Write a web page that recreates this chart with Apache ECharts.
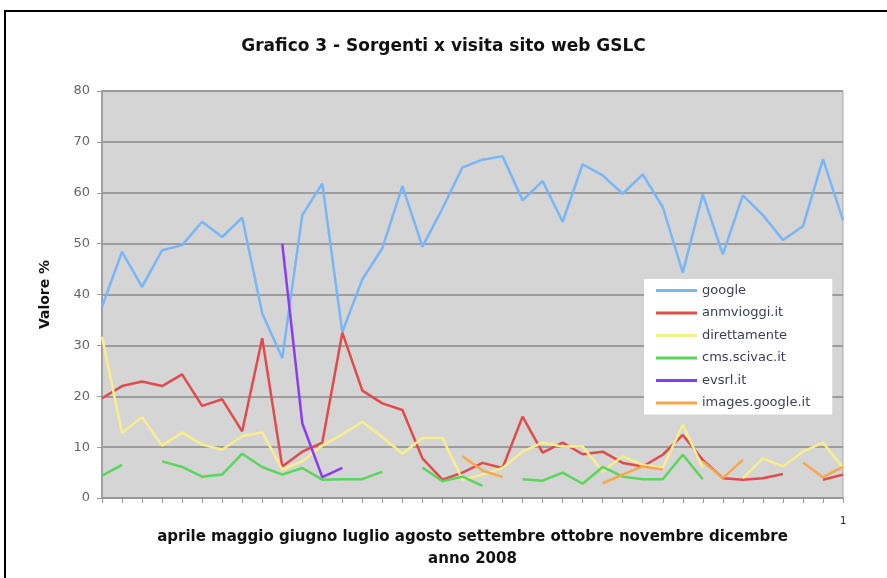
<!DOCTYPE html>
<html>
<head>
<meta charset="utf-8">
<script src="https://cdn.jsdelivr.net/npm/echarts@6/dist/echarts.min.js"></script>
<style>
  html, body { margin: 0; padding: 0; background: #fff; }
  #chart { width: 887px; height: 578px; }
</style>
</head>
<body>
<div id="chart"></div>
<script>
// settimane da aprile a dicembre 2008
const weeks = []
for (let i = 1; i <= 38; i++) weeks.push(String(i))

const google = [37.6, 48.4, 41.5, 48.7, 49.7, 54.3, 51.3, 55.1, 36.3, 27.5, 55.6, 61.8, 32.6,
  43.0, 49.1, 61.3, 49.4, 56.9, 65.0, 66.5, 67.2, 58.5, 62.3, 54.3, 65.6,
  63.4, 59.8, 63.6, 57.2, 44.3, 59.7, 47.9, 59.5, 55.6, 50.7, 53.4, 66.6, 54.6]
const anmvioggi = [19.6, 22.0, 22.9, 22.0, 24.3, 18.1, 19.4, 13.1, 31.4, 6.2, 9.1, 10.9, 32.5,
  21.1, 18.6, 17.3, 7.8, 3.6, 5.0, 6.9, 5.9, 16.0, 8.9, 10.9, 8.6,
  9.1, 6.9, 6.2, 8.5, 12.4, 7.5, 3.9, 3.6, 3.9, 4.7, null, 3.6, 4.6]
const direttamente = [31.7, 12.8, 15.9, 10.3, 12.9, 10.5, 9.5, 12.2, 12.9, 5.6, 7.2, 10.3, 12.5,
  15.0, 12.0, 8.7, 11.8, 11.8, 3.6, 4.6, 5.9, 9.1, 10.9, 10.1, 10.1,
  5.2, 8.2, 6.5, 5.9, 14.4, 5.9, null, 3.9, 7.8, 6.2, 9.1, 10.9, 5.9]
const cmsScivac = [4.4, 6.5, null, 7.2, 6.1, 4.2, 4.6, 8.7, 6.1, 4.6, 5.9, 3.6, 3.7,
  3.7, 5.2, null, 6.0, 3.3, 4.2, 2.4, null, 3.7, 3.4, 5.0, 2.8,
  6.1, 4.2, 3.7, 3.7, 8.5, 3.7, null, null, null, null, null, null, null]
const evsrl = [null, null, null, null, null, null, null, null, null, 50.0, 14.7, 4.1, 5.9,
  null, null, null, null, null, null, null, null, null, null, null, null,
  null, null, null, null, null, null, null, null, null, null, null, null, null]
const imagesGoogle = [null, null, null, null, null, null, null, null, null, null, null, null, null,
  null, null, null, null, null, 8.2, 5.4, 4.1, null, null, null, null,
  2.9, 4.6, 6.2, 5.6, null, 7.2, 3.9, 7.5, null, null, 7.0, 4.1, 6.1]

const seriesNames = ['google', 'anmvioggi.it', 'direttamente', 'cms.scivac.it', 'evsrl.it', 'images.google.it']
const seriesData = [google, anmvioggi, direttamente, cmsScivac, evsrl, imagesGoogle]
const colors = ['#78b6f8', '#e04b4b', '#f8ee8e', '#5ad65a', '#8a3cf5', '#f6a74a']

const yTicks = [0, 10, 20, 30, 40, 50, 60, 70, 80]

const chart = echarts.init(document.getElementById('chart'))

const option = {
  animation: false,
  textStyle: { fontFamily: 'DejaVu Sans' },
  title: {
    text: 'Grafico 3 - Sorgenti x visita sito web GSLC',
    left: 'center',
    top: 33,
    textStyle: { fontSize: 17, fontWeight: 'bold', color: '#111', fontFamily: 'DejaVu Sans' }
  },
  grid: {
    left: 102,
    right: 44,
    top: 91,
    bottom: 80,
    show: true,
    backgroundColor: '#d5d5d5',
    borderColor: '#a8a8a8',
    borderWidth: 1
  },
  legend: {
    orient: 'vertical',
    left: 644,
    top: 279,
    padding: [5, 22, 5, 12],
    backgroundColor: '#fff',
    icon: 'path://M0,0H41V3H0Z',
    itemWidth: 41,
    itemHeight: 14,
    itemGap: 9.5,
    textStyle: { fontSize: 13, color: '#3a3f55' },
    data: seriesNames
  },
  xAxis: {
    type: 'category',
    data: weeks,
    boundaryGap: false,
    axisLine: { lineStyle: { color: '#999', width: 1 } },
    axisTick: { show: true, interval: 0, length: 5, lineStyle: { color: '#999' } },
    axisLabel: { show: false },
    splitLine: { show: false },
    name: 'aprile maggio giugno luglio agosto settembre ottobre novembre dicembre\nanno 2008',
    nameLocation: 'middle',
    nameGap: 28,
    nameTextStyle: { fontSize: 15, fontWeight: 'bold', color: '#111', lineHeight: 22 }
  },
  yAxis: {
    type: 'value',
    min: yTicks[0],
    max: yTicks[yTicks.length - 1],
    interval: 10,
    axisLine: { show: true, lineStyle: { color: '#a0a0a0', width: 2 } },
    axisTick: { show: true, length: 5, lineStyle: { color: '#999' } },
    axisLabel: { fontSize: 13, color: '#666', margin: 12 },
    splitLine: { lineStyle: { color: '#8a8a8a', width: 1.5 } },
    name: 'Valore %',
    nameLocation: 'middle',
    nameGap: 50,
    nameRotate: 90,
    nameTextStyle: { fontSize: 14, fontWeight: 'bold', color: '#111' }
  },
  graphic: [
    {
      type: 'rect',
      shape: { x: 5, y: 11, width: 920, height: 620 },
      style: { fill: null, stroke: '#000', lineWidth: 2 },
      silent: true
    },
    {
      type: 'text',
      left: 840,
      top: 516,
      style: { text: '1', fontSize: 10, fill: '#222', fontFamily: 'DejaVu Sans' }
    }
  ],
  series: seriesNames.map((name, i) => ({
    name: name,
    type: 'line',
    data: seriesData[i],
    symbol: 'none',
    connectNulls: false,
    lineStyle: { color: colors[i], width: 2.5 },
    itemStyle: { color: colors[i] }
  }))
}

chart.setOption(option)
</script>
</body>
</html>
